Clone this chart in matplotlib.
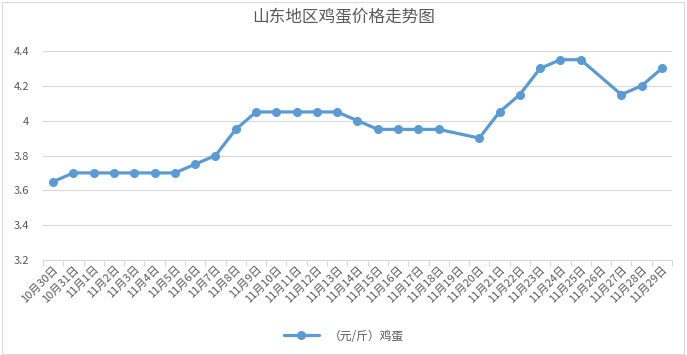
import matplotlib
matplotlib.use("Agg")
import matplotlib.pyplot as plt
from matplotlib.patches import Rectangle

plt.rcParams['font.family'] = ['Noto Sans CJK SC', 'DejaVu Sans']

dates = ["10月30日", "10月31日"] + [f"11月{d}日" for d in range(1, 30)]
prices = [3.65, 3.70, 3.70, 3.70, 3.70, 3.70, 3.70, 3.75, 3.80, 3.95,
          4.05, 4.05, 4.05, 4.05, 4.05, 4.00, 3.95, 3.95, 3.95, 3.95,
          None, 3.90, 4.05, 4.15, 4.30, 4.35, 4.35, None, 4.15, 4.20, 4.30]
series_name = "（元/斤）鸡蛋"
title = "山东地区鸡蛋价格走势图"
yticks = [3.2, 3.4, 3.6, 3.8, 4.0, 4.2, 4.4]
ytick_labels = ["3.2", "3.4", "3.6", "3.8", "4", "4.2", "4.4"]

color = "#5B9BD5"
grey = "#595959"

fig = plt.figure(figsize=(6.87, 3.55), dpi=100)
ax = fig.add_axes([43/687, 1-260/355, 629/687, 209/355])

xs = [i for i, v in enumerate(prices) if v is not None]
ys = [v for v in prices if v is not None]
ax.plot(xs, ys, color=color, lw=2.3, marker='o', ms=5.5, label=series_name,
        solid_capstyle='round', solid_joinstyle='round')

ax.set_xlim(-0.5, len(dates) - 0.5)
ax.set_ylim(3.2, 4.4)
ax.set_yticks(yticks)
ax.set_yticklabels(ytick_labels)
ax.set_xticks(range(len(dates)))
ax.set_xticklabels(dates, rotation=45, ha='right', va='top', rotation_mode='anchor')
ax.set_xticks([i - 0.5 for i in range(len(dates) + 1)], minor=True)
ax.tick_params(axis='x', which='major', length=0, labelsize=8, labelcolor=grey, pad=3)
ax.tick_params(axis='x', which='minor', length=4, color="#D9D9D9", width=0.8)
ax.tick_params(axis='y', length=0, labelsize=8, labelcolor=grey, pad=10)
ax.grid(axis='y', color="#D9D9D9", lw=0.8)
ax.set_axisbelow(True)
for s in ['top', 'right', 'left']:
    ax.spines[s].set_visible(False)
ax.spines['bottom'].set_color("#D9D9D9")
ax.spines['bottom'].set_linewidth(0.8)

fig.text(0.5, 1-18/355, title, ha='center', va='center', fontsize=12, color=grey)
fig.legend(loc='center', bbox_to_anchor=(0.5, 1-336/355), frameon=False,
           fontsize=8.5, labelcolor=grey, handlelength=3)

fig.patches.append(Rectangle((0.003, 0.004), 0.993, 0.99, transform=fig.transFigure,
                             fill=False, edgecolor="#D9D9D9", lw=0.8))

fig.savefig("out.png", dpi=100)
